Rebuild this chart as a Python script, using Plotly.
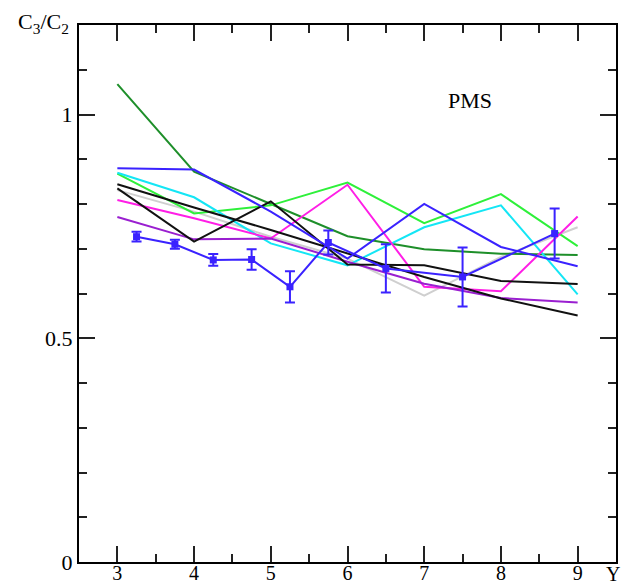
import plotly.graph_objects as go

# Rapidity bins (Y) for the model curves
y_bins = [3, 4, 5, 6, 7, 8, 9]

# Model predictions of C3/C2 versus Y
dark_green = [1.068, 0.872, 0.800, 0.728, 0.699, 0.689, 0.686]
lime = [0.868, 0.779, 0.797, 0.848, 0.757, 0.822, 0.706]
cyan = [0.870, 0.815, 0.712, 0.663, 0.748, 0.797, 0.598]
magenta = [0.809, 0.768, 0.723, 0.843, 0.615, 0.605, 0.772]
purple = [0.771, 0.721, 0.723, 0.671, 0.622, 0.590, 0.580]
black_zigzag = [0.835, 0.716, 0.806, 0.665, 0.663, 0.628, 0.621]
black_smooth = [0.844, 0.792, 0.742, 0.690, 0.637, 0.589, 0.551]
light_gray = [0.831, 0.783, 0.727, 0.678, 0.595, 0.682, 0.748]
blue = [0.880, 0.877, 0.783, 0.678, 0.800, 0.704, 0.661]

# Measured C3/C2 with uncertainties
data_y = [3.25, 3.75, 4.25, 4.75, 5.25, 5.75, 6.5, 7.5, 8.7]
data_ratio = [0.727, 0.710, 0.675, 0.676, 0.615, 0.714, 0.656, 0.637, 0.734]
data_err = [0.011, 0.010, 0.013, 0.023, 0.035, 0.027, 0.054, 0.066, 0.056]

fig = go.Figure()

curves = [
    (light_gray, "#cfcfcf"),
    (dark_green, "#1e8f2a"),
    (lime, "#2ef03a"),
    (cyan, "#14e6f5"),
    (magenta, "#ff1ee6"),
    (purple, "#9a1fd0"),
    (black_smooth, "#111111"),
    (black_zigzag, "#111111"),
    (blue, "#3a22ff"),
]
for vals, col in curves:
    fig.add_trace(go.Scatter(x=y_bins, y=vals, mode="lines",
                             line=dict(color=col, width=2), showlegend=False))

fig.add_trace(go.Scatter(
    x=data_y, y=data_ratio, mode="lines+markers",
    line=dict(color="#3a22ff", width=2),
    marker=dict(symbol="square", size=7, color="#3a22ff"),
    error_y=dict(type="data", array=data_err, color="#3a22ff",
                 thickness=2, width=5),
    showlegend=False))

serif = "Liberation Serif, Times New Roman, serif"

fig.update_layout(
    width=624, height=586,
    margin=dict(l=79, r=8, t=25, b=24),
    paper_bgcolor="white", plot_bgcolor="white",
    font=dict(family=serif, size=22, color="black"),
    xaxis=dict(range=[2.5, 9.5], tickvals=[3, 4, 5, 6, 7, 8, 9],
               ticks="inside", ticklen=16, tickwidth=1.5, tickcolor="#222222",
               minor=dict(ticks="inside", ticklen=8, tickwidth=1.5,
                          tickcolor="#222222", dtick=0.5, tick0=2.5),
               showline=True, linecolor="black", linewidth=2, mirror="allticks",
               showgrid=False, zeroline=False, automargin=False,
               ticklabelstandoff=-8, tickfont=dict(size=20)),
    yaxis=dict(range=[0, 1.2], tickvals=[0, 0.5, 1], ticktext=["0", "0.5", "1"],
               ticks="inside", ticklen=16, tickwidth=1.5, tickcolor="#222222",
               minor=dict(ticks="inside", ticklen=8, tickwidth=1.5,
                          tickcolor="#222222", dtick=0.1, tick0=0),
               showline=True, linecolor="black", linewidth=2, mirror="allticks",
               showgrid=False, zeroline=False, automargin=False,
               tickfont=dict(size=22)),
    annotations=[
        dict(text="C<sub>3</sub>/C<sub>2</sub>", xref="paper", yref="paper",
             x=-0.118, y=1.004, xanchor="left", yanchor="middle", showarrow=False,
             font=dict(size=22)),
        dict(text="Y", xref="paper", yref="paper", x=0.994, y=-0.022,
             xanchor="center", yanchor="middle", showarrow=False,
             font=dict(size=20)),
        dict(text="PMS", xref="x", yref="y", x=7.6, y=1.031, showarrow=False,
             font=dict(size=22)),
    ],
)

fig.write_html("out.html")
